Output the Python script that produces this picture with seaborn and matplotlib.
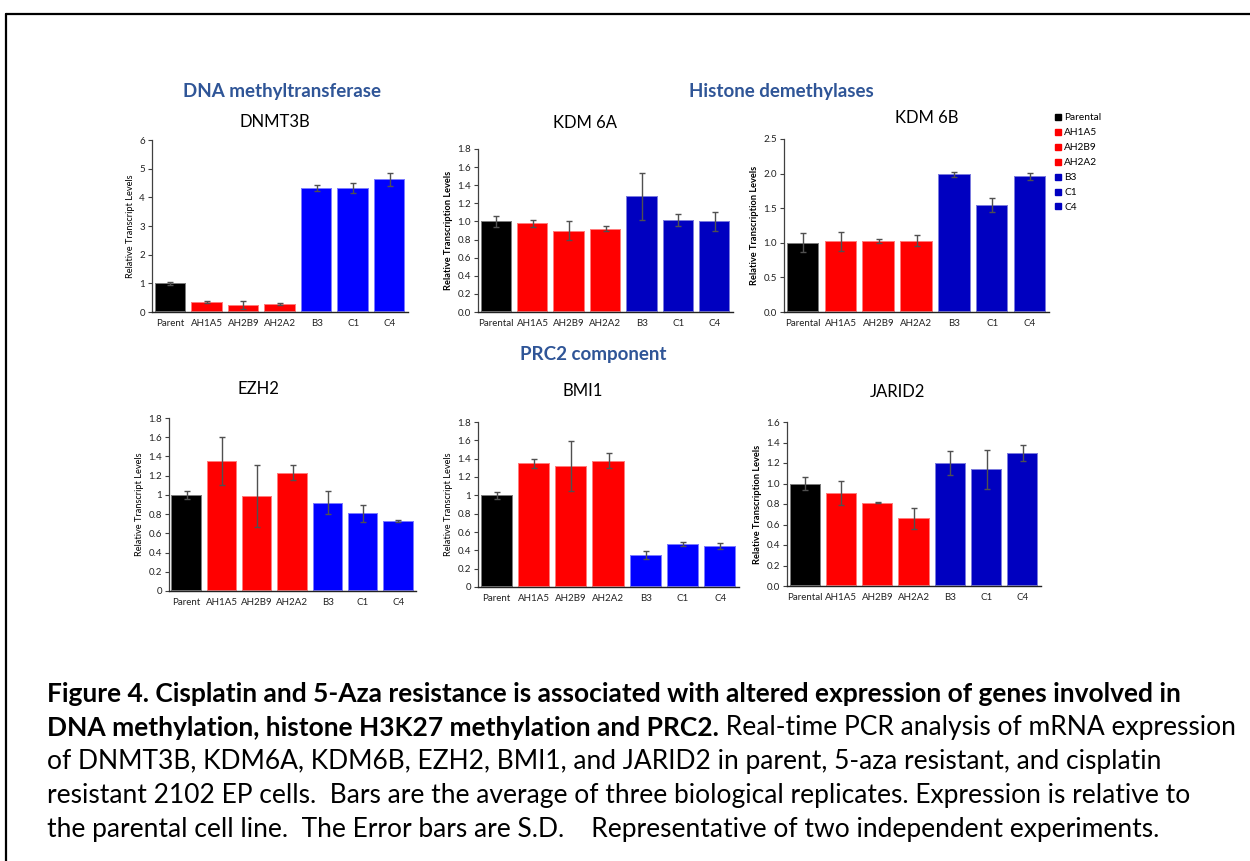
import matplotlib
matplotlib.use("Agg")
import matplotlib.pyplot as plt
import seaborn as sns
from matplotlib.lines import Line2D
from matplotlib.ticker import FuncFormatter, MultipleLocator

# --- data ---
cells_short = ["Parent", "AH1A5", "AH2B9", "AH2A2", "B3", "C1", "C4"]
cells_long = ["Parental", "AH1A5", "AH2B9", "AH2A2", "B3", "C1", "C4"]

dnmt3b = [1.00, 0.35, 0.25, 0.27, 4.33, 4.32, 4.63]
dnmt3b_sd = [0.05, 0.04, 0.13, 0.03, 0.10, 0.17, 0.23]

kdm6a = [1.00, 0.98, 0.90, 0.92, 1.28, 1.02, 1.00]
kdm6a_sd = [0.06, 0.04, 0.10, 0.03, 0.26, 0.065, 0.10]

kdm6b = [1.00, 1.02, 1.03, 1.03, 1.99, 1.55, 1.96]
kdm6b_sd = [0.14, 0.14, 0.03, 0.08, 0.04, 0.10, 0.05]

ezh2 = [1.00, 1.35, 0.99, 1.23, 0.92, 0.81, 0.73]
ezh2_sd = [0.04, 0.25, 0.32, 0.08, 0.12, 0.09, 0.01]

bmi1 = [1.00, 1.35, 1.32, 1.38, 0.35, 0.47, 0.45]
bmi1_sd = [0.035, 0.05, 0.27, 0.08, 0.04, 0.02, 0.03]

jarid2 = [1.00, 0.91, 0.81, 0.66, 1.20, 1.14, 1.30]
jarid2_sd = [0.06, 0.115, 0.005, 0.10, 0.115, 0.19, 0.08]

headers = ["DNA methyltransferase", "Histone demethylases", "PRC2 component"]

caption = [
    [("Figure 4. Cisplatin and 5-Aza resistance is associated with altered expression of genes involved in", "bold")],
    [("DNA methylation, histone H3K27 methylation and PRC2.", "bold"),
     (" Real-time PCR analysis of mRNA expression", "normal")],
    [("of DNMT3B, KDM6A, KDM6B, EZH2, BMI1, and JARID2 in parent, 5-aza resistant, and cisplatin", "normal")],
    [("resistant 2102 EP cells.  Bars are the average of three biological replicates. Expression is relative to", "normal")],
    [("the parental cell line.  The Error bars are S.D.    Representative of two independent experiments.", "normal")],
]

BLACK, RED, BLUE, NAVY = "#000000", "#FF0000", "#0000FF", "#0000C0"
HEAD = "#2F5597"

sns.set_style("white")
plt.rcParams["font.family"] = ["Lato", "DejaVu Sans"]
plt.rcParams["text.color"] = "black"
plt.rcParams["axes.labelcolor"] = "black"

W, H = 1250, 861
fig = plt.figure(figsize=(W / 100, H / 100), dpi=100)


def px(x, y):
    return x / W, 1 - y / H


def fmt_general(v, pos):
    return f"{round(v, 2):g}"


def fmt_one(v, pos):
    return f"{v:.1f}"


panels = [
    # title, labels, values, sd, ymax, step, formatter, ylabel, bold, blue, rect(px l,t,r,b), title xy
    ("DNMT3B", cells_short, dnmt3b, dnmt3b_sd, 6, 1, fmt_general,
     "Relative Transcript Levels", False, BLUE, (152, 140, 408, 312), (275, 122)),
    ("KDM 6A", cells_long, kdm6a, kdm6a_sd, 1.8, 0.2, fmt_one,
     "Relative Transcription Levels", True, NAVY, (478, 149, 733, 312), (585, 123)),
    ("KDM 6B", cells_long, kdm6b, kdm6b_sd, 2.5, 0.5, fmt_one,
     "Relative Transcription Levels", True, NAVY, (784, 139, 1049, 312), (927, 118)),
    ("EZH2", cells_short, ezh2, ezh2_sd, 1.8, 0.2, fmt_general,
     "Relative Transcript Levels", False, BLUE, (169, 418, 416, 591), (258, 389)),
    ("BMI1", cells_short, bmi1, bmi1_sd, 1.8, 0.2, fmt_general,
     "Relative Transcript Levels", False, BLUE, (478, 422, 739, 587), (583, 391)),
    ("JARID2", cells_long, jarid2, jarid2_sd, 1.6, 0.2, fmt_one,
     "Relative Transcription Levels", True, NAVY, (787, 422, 1041, 586), (898, 392)),
]

for title, labels, vals, sd, ymax, step, fmt, ylab, bold, blue, rect, txy in panels:
    l, t, r, b = rect
    ax = fig.add_axes([l / W, 1 - b / H, (r - l) / W, (b - t) / H])
    pal = [BLACK, RED, RED, RED, blue, blue, blue]
    sns.barplot(x=labels, y=vals, hue=labels, palette=pal, legend=False,
                saturation=1, width=0.86, ax=ax,
                edgecolor=(1, 1, 1, 0.5), linewidth=1.4)
    ax.errorbar(range(len(vals)), vals, yerr=sd, fmt="none", ecolor="#505050",
                elinewidth=1.0, capsize=2.2, capthick=1.0)
    ax.set_xlim(-0.5, len(vals) - 0.5)
    ax.set_ylim(0, ymax)
    ax.yaxis.set_major_locator(MultipleLocator(step))
    ax.yaxis.set_major_formatter(FuncFormatter(fmt))
    ax.tick_params(axis="y", length=3, width=0.8, color="#404040",
                   labelsize=7, labelcolor="#222222", pad=2, left=True)
    ax.tick_params(axis="x", length=0, labelsize=7, labelcolor="#222222", pad=5)
    for s in ["top", "right"]:
        ax.spines[s].set_visible(False)
    ax.spines["left"].set_color("#404040")
    ax.spines["bottom"].set_color("#222222")
    ax.spines["left"].set_linewidth(0.9)
    ax.spines["bottom"].set_linewidth(1.0)
    ax.set_ylabel(ylab, fontsize=6.7, fontweight="bold" if bold else "normal",
                  labelpad=3)
    ax.set_xlabel("")
    fig.text(*px(*txy), title, ha="center", va="center", fontsize=12)

# section headers
for name, xy in zip(headers, [(282, 91), (781, 91), (593, 355)]):
    fig.text(*px(*xy), name, ha="center", va="center", fontsize=13.5,
             fontweight="bold", color=HEAD)

# legend
leg_colors = [BLACK, RED, RED, RED, NAVY, NAVY, NAVY]
handles = [Line2D([], [], marker="s", linestyle="none", markersize=5,
                  markerfacecolor=c, markeredgecolor=c) for c in leg_colors]
fig.legend(handles, cells_long, loc="upper left", bbox_to_anchor=px(1050, 108),
           frameon=False, fontsize=7.3, handlelength=0.6, handletextpad=0.3,
           labelspacing=0.58, borderpad=0)

# caption: bold lead-in followed by regular text on the same line
CAP_FS = 19
cap_ax = fig.axes[0]
for i, parts in enumerate(caption):
    y = 694 + i * 34
    first, rest = parts[0], parts[1:]
    prev = fig.text(*px(47, y), first[0], ha="left", va="center",
                    fontsize=CAP_FS, fontweight=first[1])
    for txt, w in rest:
        prev = cap_ax.annotate(txt, xy=(1, 0), xycoords=prev, va="bottom",
                               ha="left", fontsize=CAP_FS, fontweight=w,
                               annotation_clip=False)

# frame
fig.add_artist(Line2D([6 / W, 1], [1 - 14 / H, 1 - 14 / H], color="black", lw=1.6))
fig.add_artist(Line2D([6 / W, 6 / W], [0, 1 - 14 / H], color="black", lw=1.6))

fig.savefig("out.png", dpi=100)
